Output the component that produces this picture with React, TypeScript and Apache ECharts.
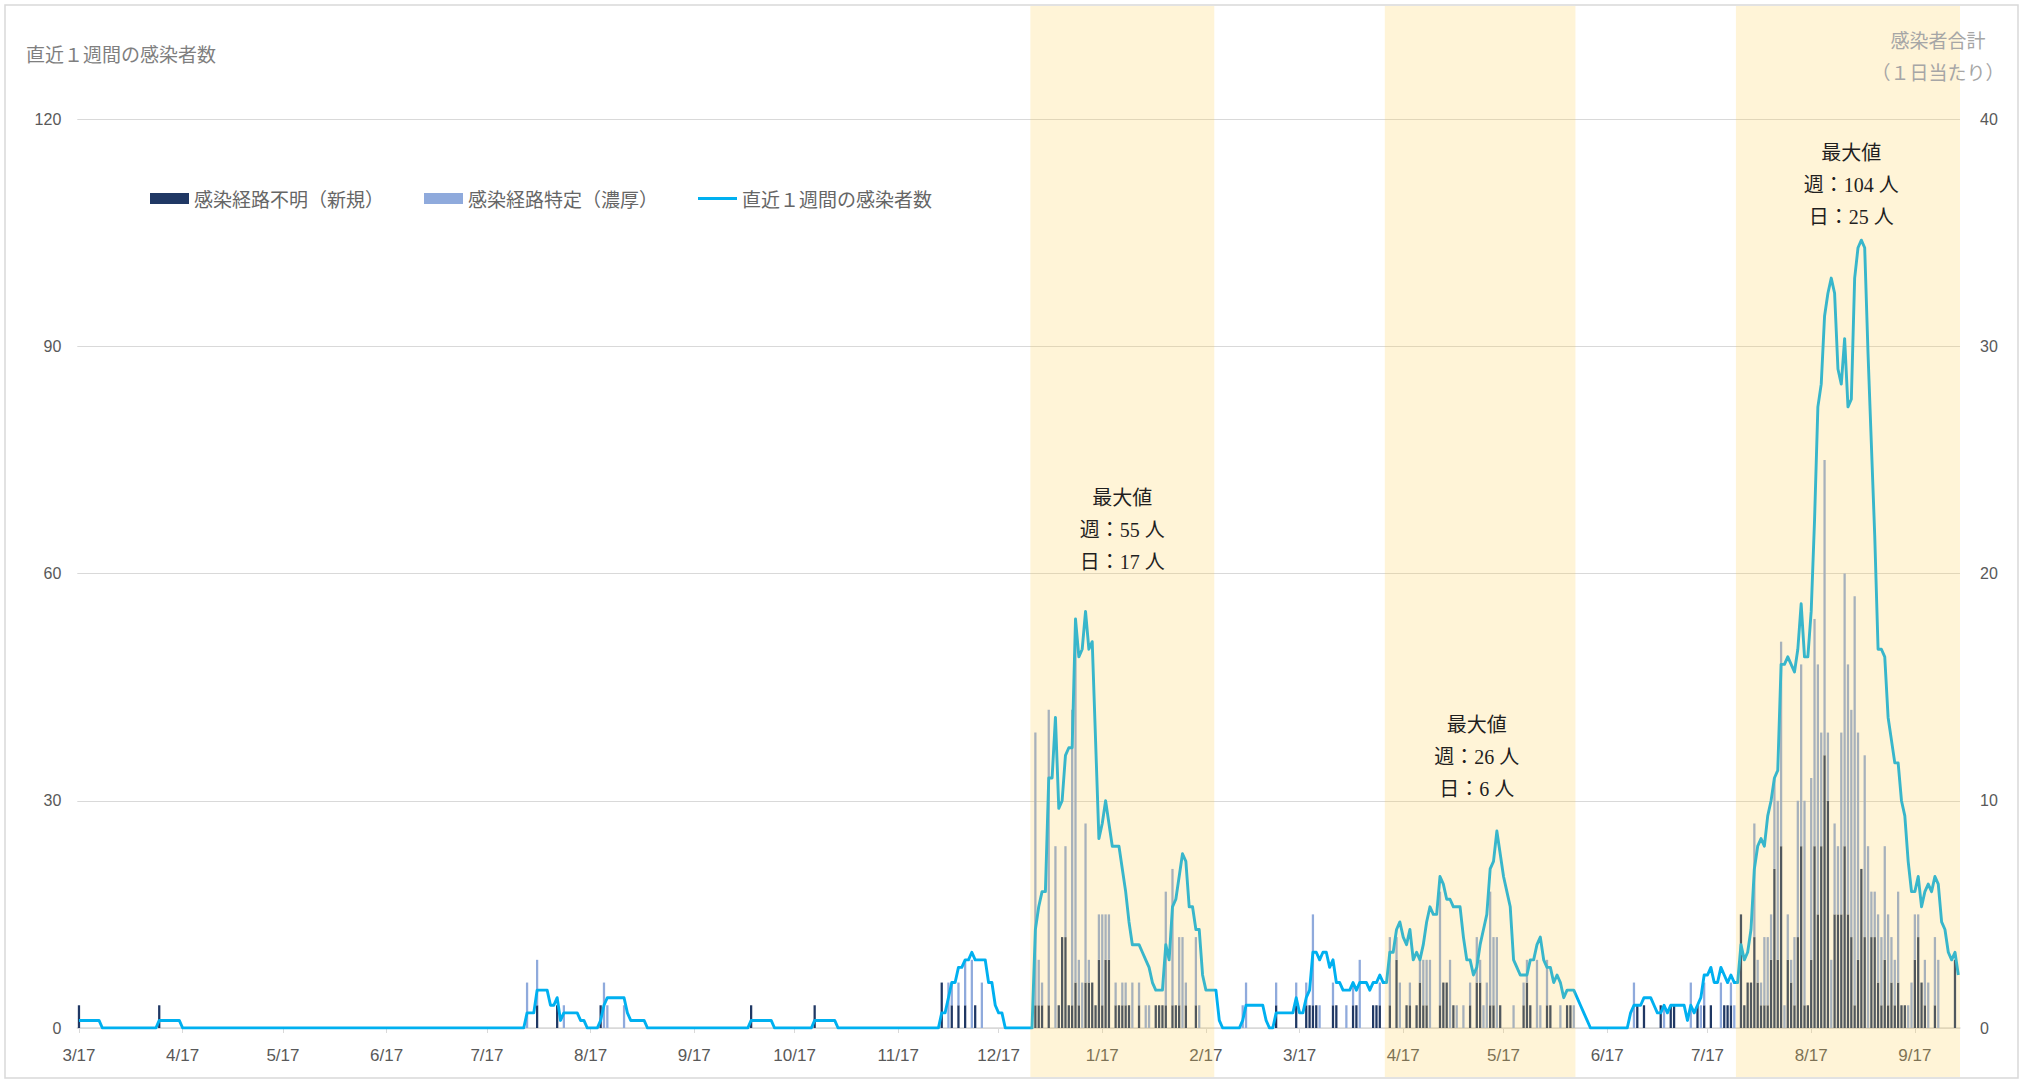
import React, { useEffect, useRef } from "react";
import * as echarts from "echarts";

// ---------------- DATA ----------------
// Axis runs day by day from 2020-03-17 to 2021-09-30.
const START_DATE = "2020-03-17";
const DAY_COUNT = 563;

// Daily cases, unknown route (new) — [day offset from 2020-03-17, count]
const unknownRouteDaily: [number, number][] = [
  [0, 1], [24, 1], [137, 1], [143, 1], [156, 1], [201, 1], [220, 1],
  [258, 2], [261, 1], [263, 1], [265, 1], [268, 1],
  [286, 1], [287, 1], [288, 1], [290, 1], [293, 1], [294, 4], [295, 4], [296, 1], [297, 1], [298, 2],
  [299, 1], [301, 2], [302, 2], [303, 2], [304, 1], [305, 3], [306, 1], [307, 3], [308, 3], [310, 1],
  [311, 1], [312, 1], [313, 1], [314, 1], [317, 1], [322, 1], [323, 1], [324, 1], [325, 1], [327, 1],
  [328, 1], [329, 1], [331, 1], [334, 1],
  [358, 1], [364, 1], [367, 1], [368, 1], [369, 1], [370, 1], [375, 1], [376, 1], [381, 1], [382, 1],
  [387, 1], [388, 1], [389, 1], [392, 1], [394, 3], [397, 1], [398, 1], [400, 1], [401, 2], [402, 1],
  [403, 1], [407, 1], [408, 2], [409, 2], [411, 1], [416, 1], [418, 2], [419, 2], [422, 1], [423, 1],
  [425, 1], [432, 1], [433, 2], [434, 1], [439, 1], [440, 1], [445, 1], [446, 1],
  [466, 1], [468, 1], [473, 1], [476, 1], [477, 1], [484, 1], [486, 1], [488, 1], [492, 1], [493, 1], [494, 1],
  [497, 5], [498, 1], [499, 2], [500, 2], [501, 4], [502, 2], [503, 1], [504, 1], [505, 1], [506, 3],
  [507, 7], [508, 3], [509, 8], [511, 3], [512, 2], [513, 1], [514, 4], [515, 8], [516, 1], [517, 1],
  [518, 3], [519, 8], [520, 5], [521, 8], [522, 12], [523, 10], [525, 5], [526, 5], [527, 5], [528, 8],
  [529, 5], [530, 4], [531, 1], [532, 3], [533, 7], [534, 4], [536, 4], [537, 4], [538, 2], [539, 1],
  [540, 3], [541, 1], [542, 2], [543, 1], [544, 2], [545, 1], [546, 1], [549, 3], [550, 4], [551, 2],
  [552, 1], [555, 1], [561, 3],
];

// Daily cases, known route (close contact) — [day offset, count]
const knownRouteDaily: [number, number][] = [
  [134, 2], [137, 2], [145, 1], [157, 2], [158, 1], [163, 1],
  [260, 2], [261, 1], [263, 1], [265, 2], [267, 3], [270, 2],
  [286, 12], [287, 2], [288, 1], [290, 13], [292, 8], [295, 4], [297, 13], [298, 15], [299, 2], [300, 2],
  [301, 7], [302, 1], [305, 2], [306, 4], [307, 2], [308, 2], [310, 1], [312, 1], [313, 1], [315, 2],
  [317, 1], [319, 1], [320, 1], [325, 5], [327, 6], [329, 3], [330, 4], [331, 1], [334, 3], [335, 1],
  [348, 1], [349, 2], [358, 1], [364, 1], [367, 1], [369, 4], [371, 1], [375, 1], [379, 1], [381, 1],
  [383, 3], [389, 1], [392, 3], [394, 1], [395, 2], [398, 1], [401, 1], [402, 2], [403, 2], [404, 3],
  [407, 5], [410, 3], [412, 1], [414, 1], [416, 1], [418, 2], [419, 1], [420, 1], [421, 2], [422, 5],
  [423, 3], [424, 4], [429, 1], [432, 1], [433, 1], [436, 3], [437, 1], [439, 2], [443, 1], [447, 1],
  [465, 2], [474, 1], [482, 2], [485, 1], [486, 1], [491, 2], [494, 1], [495, 1],
  [501, 5], [502, 1], [503, 1], [504, 3], [505, 3], [506, 2], [507, 4], [508, 7], [509, 9], [510, 1],
  [511, 2], [512, 1], [513, 3], [514, 6], [515, 8], [516, 9], [518, 8], [519, 10], [520, 11], [521, 5],
  [522, 13], [523, 3], [524, 3], [525, 4], [526, 3], [527, 8], [528, 12], [529, 11], [530, 10], [531, 18],
  [532, 10], [534, 8], [535, 8], [536, 2], [537, 2], [538, 3], [539, 3], [540, 5], [541, 4], [542, 2],
  [543, 2], [544, 4], [547, 1], [548, 2], [549, 2], [550, 1], [552, 2], [553, 2], [555, 3], [556, 3],
];

// 7-day totals, as runs of consecutive days: [first day offset, values]; other days are 0
const weeklyTotalRuns: [number, number[]][] = [
  [0, [1, 1, 1, 1, 1, 1, 1]],
  [24, [1, 1, 1, 1, 1, 1, 1]],
  [134, [2, 2, 2, 5, 5, 5, 5, 3, 3, 4, 1, 2, 2, 2, 2, 2, 1, 1]],
  [156, [1, 3, 4, 4, 4, 4, 4, 4, 2, 1, 1, 1, 1, 1]],
  [201, [1, 1, 1, 1, 1, 1, 1]],
  [220, [1, 1, 1, 1, 1, 1, 1]],
  [258, [2, 2, 4, 6, 6, 8, 8, 9, 9, 10, 9, 9, 9, 9, 6, 6, 3, 2, 2]],
  [286, [
    13, 16, 18, 18, 33, 33, 41, 29, 30, 36,
    37, 37, 54, 49, 50, 55, 50, 51, 38, 25,
    27, 30, 27, 24, 24, 24, 21, 18, 14, 11,
    11, 11, 10, 9, 8, 6, 5, 5, 5, 11,
    9, 16, 17, 20, 23, 22, 16, 16, 13, 13,
    7, 5, 5, 5, 5, 1,
  ]],
  [348, [
    1, 3, 3, 3, 3, 3, 3, 1, 0, 0,
    2, 2, 2, 2, 2, 2, 4, 2, 2, 4,
    5, 10, 10, 9, 10, 10, 8, 9, 6, 6,
    5, 5, 5, 6, 5, 6, 6, 6, 5, 6,
    6, 7, 6, 6, 10, 10, 13, 14, 12, 11,
    13, 9, 10, 9, 11, 14, 16, 15, 15, 20,
    19, 17, 17, 16, 16, 16, 12, 9, 9, 7,
    8, 11, 13, 15, 21, 22, 26, 23, 20, 18,
    16, 9, 8, 7, 7, 7, 9, 9, 11, 12,
    9, 8, 8, 6, 7, 6, 4, 5, 5, 5,
    4, 3, 2, 1,
  ]],
  [464, [
    2, 3, 3, 3, 4, 4, 4, 3, 2, 2,
    3, 2, 3, 3, 3, 3, 3, 1, 3, 2,
    3, 4, 7, 7, 8, 6, 6, 8, 7, 6,
    7, 6, 6, 11, 9, 10, 13, 21, 24, 25,
    24, 28, 30, 33, 34, 48, 48, 49, 48, 47,
    50, 56, 49, 49, 55, 67, 82, 85, 94, 97,
    99, 97, 87, 85, 91, 82, 83, 99, 103, 104,
    103, 89, 77, 65, 50, 50, 49, 41, 38, 35,
    35, 30, 28, 22, 18, 18, 20, 16, 18, 19,
    18, 20, 19, 14, 13, 10, 9, 10, 7,
  ]],
];

// Shaded wave periods [first day, last day]
const waveBands: [string, string][] = [
  ["2020-12-27", "2021-02-19"],
  ["2021-04-12", "2021-06-07"],
  ["2021-07-26", "2021-09-30"],
];

// Peak notes for each wave: anchor date / left-axis height, weekly max, daily max
const peakDates = ["2021-01-23", "2021-05-09", "2021-08-29"];
const peakAnchorValues = [70, 40, 115.5];
const peakWeekly = [55, 26, 104];
const peakDaily = [17, 6, 25];

const leftAxis = { min: 0, max: 120, interval: 30 };
const rightAxis = { min: 0, max: 40, interval: 10 };

const seriesNames = ["感染経路不明（新規）", "感染経路特定（濃厚）", "直近１週間の感染者数"];
const leftTitle = "直近１週間の感染者数";
const rightTitleLines = ["感染者合計", "（１日当たり）"];

// ---------------- STYLE ----------------
const COLOR_UNKNOWN = "#203864";
const COLOR_KNOWN = "#8FAADC";
const COLOR_LINE = "#00B0F0";
const BAND_FILL = "rgba(255, 205, 73, 0.22)";
const GRID_COLOR = "#D9D9D9";
const FONT_JP = "'Noto Sans CJK JP', 'Noto Sans', sans-serif";
const FONT_NUM = "'Liberation Sans', Arial, sans-serif";
const FONT_NOTE = "'Liberation Serif', 'DejaVu Serif', 'Noto Sans CJK JP', serif";

function buildDates(start: string, count: number): string[] {
  const t0 = Date.parse(start + "T00:00:00Z");
  const out: string[] = [];
  for (let i = 0; i < count; i++) {
    out.push(new Date(t0 + i * 86400000).toISOString().slice(0, 10));
  }
  return out;
}

function fromPairs(pairs: [number, number][]): number[] {
  const arr: number[] = new Array(DAY_COUNT).fill(0);
  pairs.forEach(([d, v]) => {
    arr[d] = v;
  });
  return arr;
}

function fromRuns(runs: [number, number[]][]): number[] {
  const arr: number[] = new Array(DAY_COUNT).fill(0);
  runs.forEach(([d0, vals]) => {
    vals.forEach((v, i) => {
      arr[d0 + i] = v;
    });
  });
  return arr;
}

export default function App() {
  const ref = useRef<HTMLDivElement>(null);

  useEffect(() => {
    document.body.style.margin = "0";
    if (!ref.current) return;
    const chart = echarts.init(ref.current, undefined, { renderer: "svg" });

    const dates = buildDates(START_DATE, DAY_COUNT);
    const idx = (d: string) => dates.indexOf(d);
    const unknown = fromPairs(unknownRouteDaily);
    const known = fromPairs(knownRouteDaily);
    const weekly = fromRuns(weeklyTotalRuns);

    const bandData = waveBands.map((b, i) => [
      idx(b[0]),
      idx(b[1]),
      idx(peakDates[i]),
      peakAnchorValues[i],
    ]);

    const BAND_TOP = 6;
    const BAND_BOTTOM = 1077;
    const LINE_GAP = 32;

    const option: any = {
      animation: false,
      backgroundColor: "#ffffff",
      grid: { left: 77.3, right: 68, top: 119, bottom: 55, outerBoundsMode: "none" },
      legend: {
        left: 150,
        top: 189,
        padding: 0,
        itemWidth: 39,
        itemHeight: 11,
        itemGap: 40,
        textStyle: { fontSize: 19, color: "#666666", fontFamily: FONT_JP },
        data: [
          { name: seriesNames[0], icon: "rect" },
          { name: seriesNames[1], icon: "rect" },
          { name: seriesNames[2], icon: "path://M0 0H39V3H0Z" },
        ],
      },
      xAxis: {
        type: "category",
        data: dates,
        boundaryGap: true,
        axisLine: { lineStyle: { color: GRID_COLOR, width: 1.5 } },
        axisTick: {
          show: true,
          alignWithLabel: true,
          length: 5,
          interval: (_i: number, v: string) => v.slice(8) === "17",
          lineStyle: { color: GRID_COLOR },
        },
        axisLabel: {
          interval: (_i: number, v: string) => v.slice(8) === "17",
          formatter: (v: string) => `${+v.slice(5, 7)}/${+v.slice(8, 10)}`,
          color: "#595959",
          fontSize: 17,
          fontFamily: FONT_NUM,
          margin: 19,
        },
        splitLine: { show: false },
      },
      yAxis: [
        {
          type: "value",
          ...leftAxis,
          axisLine: { show: false },
          axisTick: { show: false },
          axisLabel: { color: "#595959", fontSize: 16, fontFamily: FONT_NUM, margin: 16 },
          splitLine: { lineStyle: { color: GRID_COLOR, width: 1.2 } },
        },
        {
          type: "value",
          position: "right",
          ...rightAxis,
          axisLine: { show: false },
          axisTick: { show: false },
          axisLabel: { color: "#595959", fontSize: 16, fontFamily: FONT_NUM, margin: 20 },
          splitLine: { show: false },
        },
      ],
      series: [
        {
          name: seriesNames[0],
          type: "bar",
          stack: "daily",
          yAxisIndex: 1,
          data: unknown,
          barWidth: "68%",
          itemStyle: { color: COLOR_UNKNOWN },
          silent: true,
        },
        {
          name: seriesNames[1],
          type: "bar",
          stack: "daily",
          yAxisIndex: 1,
          data: known,
          barWidth: "68%",
          itemStyle: { color: COLOR_KNOWN },
          silent: true,
        },
        {
          name: seriesNames[2],
          type: "line",
          yAxisIndex: 0,
          data: weekly,
          symbol: "none",
          showSymbol: false,
          z: 3,
          lineStyle: { color: COLOR_LINE, width: 2.9, join: "round" },
          itemStyle: { color: COLOR_LINE },
          silent: true,
        },
        {
          type: "custom",
          yAxisIndex: 0,
          z: 10,
          clip: false,
          silent: true,
          data: bandData,
          renderItem: (params: any, api: any) => {
            const i = params.dataIndex;
            const bw = api.size([1, 0])[0];
            const x0 = api.coord([api.value(0), 0])[0] - bw / 2;
            const x1 = api.coord([api.value(1), 0])[0] + bw / 2;
            const a = api.coord([api.value(2), api.value(3)]);
            const lines = ["最大値", `週：${peakWeekly[i]} 人`, `日：${peakDaily[i]} 人`];
            return {
              type: "group",
              children: [
                {
                  type: "rect",
                  shape: { x: x0, y: BAND_TOP, width: x1 - x0, height: BAND_BOTTOM - BAND_TOP },
                  style: { fill: BAND_FILL },
                },
                ...lines.map((t, k) => ({
                  type: "text",
                  x: a[0],
                  y: a[1] + k * LINE_GAP,
                  style: {
                    text: t,
                    fill: "#1f1f1f",
                    fontSize: 20,
                    fontFamily: FONT_NOTE,
                    align: "center",
                    verticalAlign: "middle",
                  },
                })),
              ],
            };
          },
        },
      ],
      graphic: [
        {
          type: "rect",
          z: 20,
          shape: { x: 5, y: 5, width: 2013, height: 1073 },
          style: { fill: "none", stroke: GRID_COLOR, lineWidth: 1.5 },
        },
        {
          type: "text",
          z: 20,
          x: 26,
          y: 53,
          style: {
            text: leftTitle,
            fill: "#7f7f7f",
            fontSize: 19,
            fontFamily: FONT_JP,
            align: "left",
            verticalAlign: "middle",
          },
        },
        ...rightTitleLines.map((t, k) => ({
          type: "text",
          z: 20,
          x: 1938,
          y: 39 + k * 32,
          style: {
            text: t,
            fill: "#a6a6a6",
            fontSize: 19,
            fontFamily: FONT_JP,
            align: "center",
            verticalAlign: "middle",
          },
        })),
      ],
    };

    chart.setOption(option);
    return () => {
      chart.dispose();
    };
  }, []);

  return <div ref={ref} style={{ width: 2028, height: 1083, overflow: "hidden" }} />;
}
